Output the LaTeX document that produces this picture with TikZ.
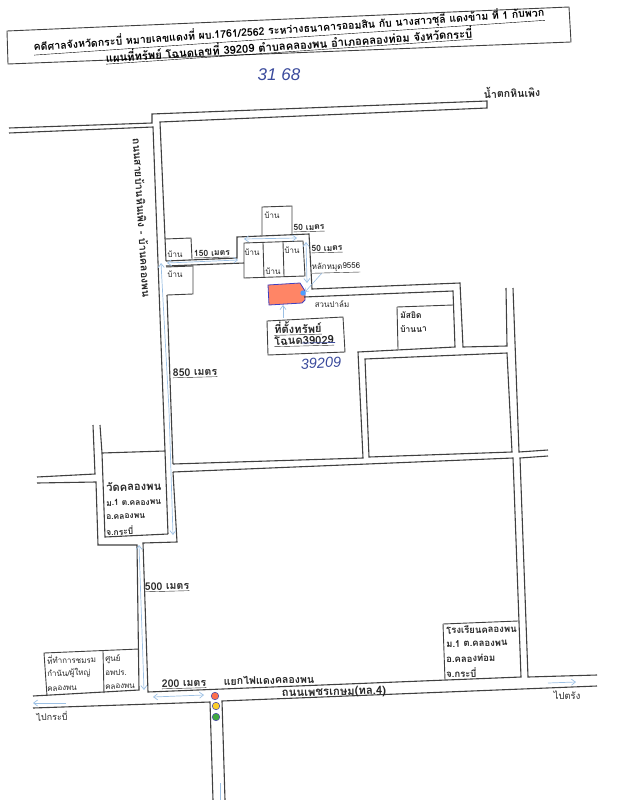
\documentclass[tikz,border=0pt]{standalone}
\usepackage{fontspec}
\usetikzlibrary{arrows.meta}
\newfontfamily\thaifont[Script=Thai]{Loma}
\setmainfont{Liberation Sans}
\definecolor{roadc}{HTML}{404040}
\definecolor{penblue}{HTML}{3A4A9C}
\definecolor{arrowb}{HTML}{9CC0E4}
\tikzset{
  road/.style={draw=roadc,line width=1.1pt,line join=miter},
  frame/.style={draw=roadc,line width=0.9pt},
  lbl/.style={inner sep=0pt,text=black!85,font=\thaifont\fontsize{8}{9}\selectfont,rotate=1.5},
  lblb/.style={lbl,font=\thaifont\bfseries\fontsize{8.5}{9}\selectfont},
  lblm/.style={lbl,font=\thaifont\bfseries\fontsize{9.5}{10}\selectfont},
  lblbig/.style={lbl,font=\thaifont\bfseries\fontsize{10.6}{11}\selectfont},
  sitetext/.style={lbl,anchor=west,font=\thaifont\bfseries\fontsize{11.2}{12}\selectfont},
  left lbl/.style={lbl,anchor=west},
  left lblb/.style={lblb,anchor=west},
  left lblm/.style={lblm,anchor=west},
  dist/.style={lblb},
  distbig/.style={lblbig},
  title/.style={lbl,rotate=2.4,text=black,font=\thaifont\bfseries\fontsize{10.6}{11}\selectfont},
  hand/.style={inner sep=0pt,text=penblue,font=\itshape\fontsize{17}{17}\selectfont},
  guide/.style={draw=arrowb,line width=0.7pt,{Straight Barb[length=4pt,width=6pt]}-{Straight Barb[length=4pt,width=6pt]}},
  guideone/.style={draw=arrowb,line width=0.7pt,-{Straight Barb[length=4pt,width=6pt]}},
  lamp/.style={circle,draw=blue!35!gray,line width=0.6pt,minimum size=7.5pt,inner sep=0pt},
}
\begin{document}
\begin{tikzpicture}[x=1pt,y=-1pt]
\useasboundingbox (0,0) rectangle (619,800);
% title
\draw[frame] (7,31) -- (569,7) -- (571,42) -- (8,64) -- cycle;
\node[title] (t1) at (289,30.5) {\underline{คดีศาลจังหวัดกระบี่ หมายเลขแดงที่ ผบ.1761/2562 ระหว่างธนาคารออมสิน กับ นางสาวชุลี แดงข้าม ที่ 1 กับพวก}};
\node[title,font=\thaifont\bfseries\fontsize{11.2}{12}\selectfont] (t2) at (289,45.5) {\underline{แผนที่ทรัพย์ โฉนดเลขที่ 39209 ตำบลคลองพน อำเภอคลองท่อม จังหวัดกระบี่}};
\node[hand] (h1) at (279,75) {31 68};
\node[lblbig] (falls) at (512,92) {น้ำตกหินเพิง};
% northern road
\draw[road] (9,128) -- (152,123) -- (152,114) -- (487,101) -- (487,108) -- (160,122) -- (165,238) -- (166,261);
\draw[road] (9,133) -- (153,127) -- (165,451) -- (168,534);
% houses and lane
\draw[frame] (165,239) -- (191,238) -- (192,259);
\draw[road] (166,261) -- (237,258) -- (237,237) -- (309,234) -- (312,289) -- (460,283) -- (463,347) -- (507,346) -- (506,288);
\draw[road] (166,266) -- (244,263);
\draw[frame] (244,243) -- (303,241) -- (305,276) -- (244,278) -- cycle;
\draw[frame] (263,243) -- (264,277) (283,242) -- (284,276);
\draw[frame] (262,235) -- (262,207) -- (292,206) -- (292,234);
\draw[frame] (166,267) -- (193,266) -- (193,294) -- (167,295);
% lot
\draw[draw=blue!50!gray,line width=0.8pt,fill=red!60!orange!60] (268,285) -- (300,283) -- (305,291) -- (305,300) -- (302,303) -- (269,305) -- cycle;
\fill[blue!55!cyan!70] (303,293) circle (2.7);
% inner roads
\draw[road] (304,297) -- (453,291) -- (455,347) -- (358,352) -- (363,458) -- (173,464);
\draw[road] (167,295) -- (173,464);
\draw[frame] (397,307) -- (453,305);
\draw[frame] (397,307) -- (398,349);
\draw[road] (365,359) -- (507,353) -- (512,452) -- (369,457) -- cycle;
\draw[road] (513,288) -- (519,452) -- (548,450);
\draw[road] (548,456) -- (520,458) -- (528,677) -- (597,675);
\draw[road] (173,472) -- (513,458) -- (521,677) -- (148,692) -- (143,543) -- (177,542) -- (173,472);
\draw[frame] (443,624) -- (518,621);
\draw[frame] (443,624) -- (445,680);
% wat block
\draw[road] (102,453) -- (165,451);
\draw[road] (100,425) -- (102,453) -- (105,537) -- (168,534);
\draw[road] (93,425) -- (95,474) -- (37,477);
\draw[road] (37,483) -- (96,482) -- (98,545) -- (137,545) -- (139,690) -- (33,696);
% main road
\draw[road] (33,708) -- (210,702) -- (213,800);
\draw[road] (225,800) -- (222,701) -- (597,686);
% boxes near junction
\draw[frame] (47,696) -- (44,653) -- (139,649);
\draw[frame] (103,651) -- (104,693);
% guides
\draw[guide] (161,263) -- (169,410) -- (173,535);
\draw[guide] (167,263) -- (238,260);
\draw[guide] (244,239) -- (297,238);
\draw[guide] (306,242) -- (307,283);
\draw[guideone] (283,318) -- (283,305);
\draw[draw=arrowb,line width=0.6pt,-{Straight Barb[length=3pt,width=5pt]}] (322,273) -- (305,292);
\draw[guide] (139,545) -- (144,690);
\draw[guide] (153,697) -- (204,695);
\draw[guideone] (66,703) -- (33,703);
\draw[guideone] (548,683) -- (576,682);
\draw[draw=arrowb,line width=0.7pt] (220,783) -- (220,800);
% lamps
\node[lamp,fill=red!60!orange!70] (l1) at (215,696) {};
\node[lamp,fill=yellow!60!orange!85] (l2) at (216,706) {};
\node[lamp,fill=green!55!black!75] (l3) at (216,717) {};
% site box
\draw[frame] (267,321) -- (343,317) -- (345,352) -- (268,355) -- cycle;
\node[sitetext] (s1) at (274,329) {\underline{ที่ตั้งทรัพย์}};
\node[sitetext] (s2) at (274,342) {\underline{โฉนด39029}};
\draw[draw=penblue,line width=0.7pt] (302,343) -- (335,342.5);
\node[hand,font=\itshape\fontsize{14.5}{15}\selectfont,rotate=3] (h2) at (321,363) {39209};
% houses
\node[lbl] (b1) at (272,215) {บ้าน};
\node[lbl] (b2) at (175,254) {บ้าน};
\node[lbl] (b3) at (175,274) {บ้าน};
\node[lbl] (b4) at (252,252) {บ้าน};
\node[lbl] (b5) at (273,271) {บ้าน};
\node[lbl] (b6) at (292,250) {บ้าน};
% distances
\node[dist] (d1) at (212,254) {\underline{150 เมตร}};
\node[dist] (d2) at (309,228) {\underline{50 เมตร}};
\node[dist] (d3) at (327,249) {\underline{50 เมตร}};
\node[distbig] (d4) at (195,373) {\underline{850 เมตร}};
\node[distbig] (d5) at (167,587) {\underline{500 เมตร}};
\node[distbig] (d6) at (184,684) {\underline{200 เมตร}};
\node[lbl] (pin) at (336,268) {\underline{หลักหมุด9556}};
\node[lbl] (palm) at (332,304) {สวนปาล์ม};
% mosque
\node[left lblb] (m1) at (400,315) {มัสยิด};
\node[left lblb] (m2) at (400,329) {บ้านนา};
% wat
\node[left lblb,font=\thaifont\bfseries\fontsize{11.2}{12}\selectfont] (w1) at (106,487) {วัดคลองพน};
\node[left lblb] (w2) at (106,503) {ม.1 ต.คลองพน};
\node[left lblb] (w3) at (106,517) {อ.คลองพน};
\node[left lblb] (w4) at (106,531) {จ.กระบี่};
% school
\node[left lblm] (r1) at (446,630) {โรงเรียนคลองพน};
\node[left lblm] (r2) at (446,644) {ม.1 ต.คลองพน};
\node[left lblm] (r3) at (446,659) {อ.คลองท่อม};
\node[left lblm] (r4) at (446,673) {จ.กระบี่};
% junction boxes
\node[left lbl] (c1) at (47,660) {ที่ทำการชมรม};
\node[left lbl] (c2) at (47,674) {กำนัน/ผู้ใหญ่};
\node[left lbl] (c3) at (47,689) {คลองพน};
\node[left lbl] (c4) at (105,659) {ศูนย์};
\node[left lbl] (c5) at (105,673) {อพปร.};
\node[left lbl] (c6) at (105,687) {คลองพน};
% roads
\node[lblbig] (j1) at (269,680) {แยกไฟแดงคลองพน};
\node[lblbig,font=\thaifont\bfseries\fontsize{11.3}{12}\selectfont] (j2) at (334,692.5) {ถนนเพชรเกษม(ทล.4)};
\node[lblm,font=\thaifont\fontsize{9}{10}\selectfont] (g1) at (52,716) {ไปกระบี่};
\node[lblm,font=\thaifont\fontsize{9.5}{10}\selectfont] (g2) at (567,695) {ไปตรัง};
\node[lblbig,rotate=-88] (rd) at (142,218) {ถนนสายบ้านหินเพิง - บ้านคลองพน};
\end{tikzpicture}
\end{document}
